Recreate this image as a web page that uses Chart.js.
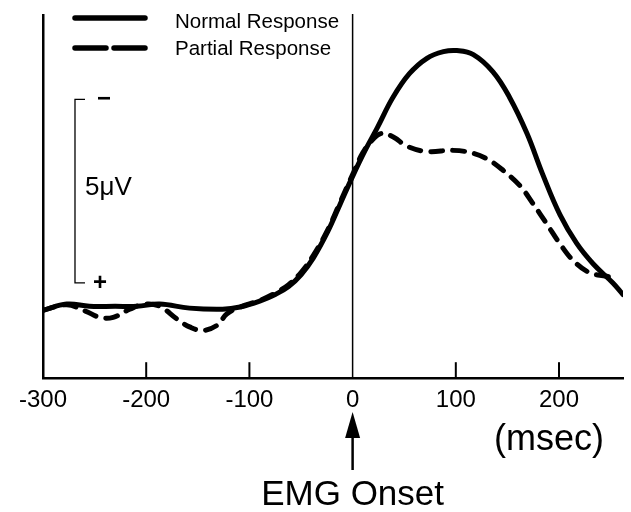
<!DOCTYPE html>
<html>
<head>
<meta charset="utf-8">
<script src="https://cdn.jsdelivr.net/npm/chart.js@4/dist/chart.umd.min.js"></script>
<style>
  html, body { margin: 0; padding: 0; background: #fff; }
  #wrap { width: 631px; height: 512px; }
</style>
</head>
<body>
<div id="wrap"><canvas id="emgChart"></canvas></div>
<script>
// tick labels on the time axis (msec)
const xTicks = [-300, -200, -100, 0, 100, 200];

// Normal response (msec / microvolts)
const normalMs = [-300, -277, -255, -230, -209, -187, -158, -126, -109, -90, -75, -62, -50, -38, -24, -12, 0, 12, 24, 39, 55, 72, 88, 101, 117, 136, 152, 169, 184, 201, 217, 233, 252, 262];
const normalUv = [-0.05, 0.12, 0.06, 0.06, 0.06, 0.12, 0.01, -0.02, 0.04, 0.2, 0.38, 0.6, 0.92, 1.38, 2.1, 2.85, 3.6, 4.3, 4.93, 5.75, 6.4, 6.82, 7.0, 7.03, 6.92, 6.45, 5.76, 4.77, 3.67, 2.55, 1.78, 1.22, 0.7, 0.38];

// Partial response
const partialMs = [-300, -277, -259, -245, -232, -216, -201, -187, -170, -158, -145, -131, -122, -109, -90, -75, -62, -50, -38, -24, -12, 0, 10, 20, 28, 39, 53, 72, 97, 114, 130, 146, 162, 175, 188, 201, 214, 230, 246, 252];
const partialUv = [-0.05, 0.1, -0.07, -0.24, -0.24, -0.02, 0.12, 0.06, -0.29, -0.5, -0.6, -0.45, -0.15, 0.04, 0.22, 0.42, 0.65, 0.98, 1.45, 2.15, 2.9, 3.65, 4.25, 4.62, 4.77, 4.68, 4.42, 4.28, 4.31, 4.25, 4.08, 3.76, 3.35, 2.85, 2.31, 1.76, 1.3, 0.97, 0.88, 0.82];

// 5 uV calibration bar
const calibMs = -269;
const calibUv = [0.7, 5.7];

const FONT = "'Liberation Sans', Arial, Helvetica, sans-serif";

const toPoints = (xs, ys) => xs.map((x, i) => ({ x: x, y: ys[i] }));

const extras = {
  id: "extras",
  afterDraw(chart) {
    const { ctx, chartArea, scales } = chart;
    const x = scales.x, y = scales.y;
    const x0 = x.getPixelForValue(0);
    ctx.save();
    ctx.strokeStyle = "#000";
    ctx.fillStyle = "#000";

    // onset line
    ctx.lineWidth = 1.5;
    ctx.beginPath();
    ctx.moveTo(x0, chartArea.top - 1);
    ctx.lineTo(x0, chartArea.bottom);
    ctx.stroke();

    // inward tick marks
    ctx.lineWidth = 2;
    xTicks.forEach((v) => {
      if (v === -300 || v === 0) return;
      const px = x.getPixelForValue(v);
      ctx.beginPath();
      ctx.moveTo(px, chartArea.bottom);
      ctx.lineTo(px, chartArea.bottom - 16);
      ctx.stroke();
    });

    // calibration bracket
    const bx = x.getPixelForValue(calibMs);
    const yt = y.getPixelForValue(calibUv[1]);
    const yb = y.getPixelForValue(calibUv[0]);
    ctx.lineWidth = 1.3;
    ctx.beginPath();
    ctx.moveTo(bx + 10, yt);
    ctx.lineTo(bx, yt);
    ctx.lineTo(bx, yb);
    ctx.lineTo(bx + 10, yb);
    ctx.stroke();
    ctx.font = "bold 24px " + FONT;
    ctx.textAlign = "center";
    ctx.textBaseline = "middle";
    ctx.fillText("\u2212", bx + 29, yt);
    ctx.fillText("+", bx + 25, yb + 1);
    ctx.font = "26px " + FONT;
    ctx.textAlign = "left";
    ctx.fillText("5\u03bcV", bx + 10, (yt + yb) / 2 - 3);

    // legend
    ctx.lineCap = "round";
    ctx.lineWidth = 5.5;
    ctx.beginPath();
    ctx.moveTo(75, 18);
    ctx.lineTo(145, 18);
    ctx.stroke();
    ctx.beginPath();
    ctx.moveTo(75, 48);
    ctx.lineTo(106, 48);
    ctx.moveTo(114, 48);
    ctx.lineTo(145, 48);
    ctx.stroke();
    ctx.font = "20.5px " + FONT;
    ctx.textBaseline = "alphabetic";
    ctx.fillText("Normal Response", 175, 28);
    ctx.fillText("Partial Response", 175, 55);

    // EMG onset arrow
    ctx.lineCap = "butt";
    ctx.lineWidth = 2.5;
    ctx.beginPath();
    ctx.moveTo(x0, 470);
    ctx.lineTo(x0, 432);
    ctx.stroke();
    ctx.beginPath();
    ctx.moveTo(x0, 412);
    ctx.lineTo(x0 - 7.5, 438);
    ctx.lineTo(x0 + 7.5, 438);
    ctx.closePath();
    ctx.fill();

    ctx.textAlign = "center";
    ctx.textBaseline = "middle";
    ctx.font = "35px " + FONT;
    ctx.fillText("EMG Onset", x0, 495);
    ctx.font = "36px " + FONT;
    ctx.fillText("(msec)", 549, 440);
    ctx.restore();
  },
};

new Chart(document.getElementById("emgChart"), {
  type: "line",
  data: {
    datasets: [
      {
        label: "Normal Response",
        data: toPoints(normalMs, normalUv),
        borderColor: "#000",
        borderWidth: 5,
        borderCapStyle: "round",
        pointRadius: 0,
        tension: 0.4,
      },
      {
        label: "Partial Response",
        data: toPoints(partialMs, partialUv),
        borderColor: "#000",
        borderWidth: 5,
        borderDash: [12, 10],
        borderCapStyle: "round",
        pointRadius: 0,
        tension: 0.4,
      },
    ],
  },
  options: {
    responsive: true,
    maintainAspectRatio: false,
    animation: false,
    layout: { padding: { left: 43, right: 8, top: 15, bottom: 89 } },
    plugins: { legend: { display: false }, tooltip: { enabled: false } },
    scales: {
      x: {
        type: "linear",
        min: -300,
        max: 262,
        afterBuildTicks: (axis) => {
          axis.ticks = xTicks.map((v) => ({ value: v }));
        },
        grid: { display: false, drawTicks: false },
        border: { color: "#000", width: 2.5 },
        ticks: { color: "#000", padding: 8, maxRotation: 0, font: { family: FONT, size: 24 } },
      },
      y: {
        min: -1.9,
        max: 8.0,
        grid: { display: false, drawTicks: false },
        border: { color: "#000", width: 2.5 },
        ticks: { display: false },
      },
    },
  },
  plugins: [extras],
});
</script>
</body>
</html>
